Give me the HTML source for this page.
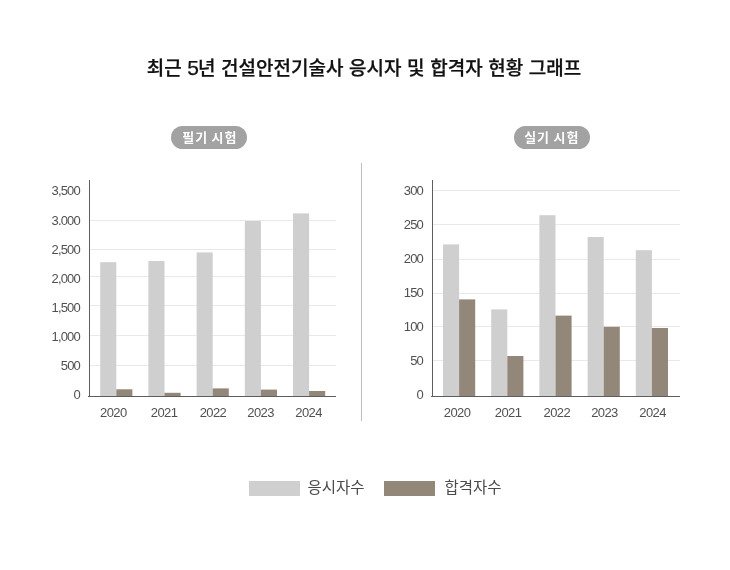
<!DOCTYPE html>
<html lang="ko"><head><meta charset="utf-8"><title>최근 5년 건설안전기술사 응시자 및 합격자 현황 그래프</title>
<style>
html,body{margin:0;padding:0;background:#fff;}
body{width:730px;height:570px;position:relative;overflow:hidden;font-family:"Liberation Sans","Noto Sans CJK KR",sans-serif;}
.abs,.b,.gl,.yl,.xl,.pill,.sw,.lg{position:absolute;}
.title{left:-1px;top:52px;-webkit-text-stroke:0.25px #111;width:730px;text-align:center;font-size:19px;line-height:32px;font-weight:500;color:#111;white-space:nowrap;letter-spacing:0;word-spacing:0.35px;}
.n5{font-size:21px;letter-spacing:-1.1px;}
.pill{height:23px;width:76px;border-radius:12px;background:#a2a2a2;color:#fff;font-weight:700;font-size:13px;line-height:23px;text-align:center;top:126px;white-space:nowrap;letter-spacing:0.9px;word-spacing:-0.9px;text-indent:0.9px;}
.b{width:16px;}
.g{background:#cfcfcf;}
.r{background:#93877a;}
.gl{height:1px;background:#e9e9e9;}
.ax{position:absolute;background:#5e5e5e;}
.yl{width:60px;text-align:right;font-size:13px;line-height:14px;color:#505050;letter-spacing:-0.8px;white-space:nowrap;}
.xl{width:48px;text-align:center;font-size:13px;line-height:14px;color:#505050;letter-spacing:-0.6px;white-space:nowrap;}
.sw{top:481px;height:15px;width:51px;}
.lg{top:477px;font-size:15.5px;line-height:22px;color:#4a4a4a;font-weight:400;white-space:nowrap;}
</style></head><body>
<div class="abs title">최근 <span class="n5">5</span>년 건설안전기술사 응시자 및 합격자 현황 그래프</div>
<div class="pill" style="left:171px;text-indent:1.6px">필기 시험</div>
<div class="pill" style="left:514px;text-indent:-0.5px">실기 시험</div>
<div class="ax" style="left:361px;top:163px;width:1px;height:258px;background:#bdbdbd"></div>

<div class="gl" style="left:90px;top:220px;width:246px"></div>
<div class="gl" style="left:90px;top:249px;width:246px"></div>
<div class="gl" style="left:90px;top:276px;width:246px"></div>
<div class="gl" style="left:90px;top:305px;width:246px"></div>
<div class="gl" style="left:90px;top:335px;width:246px"></div>
<div class="gl" style="left:90px;top:365px;width:246px"></div>
<div class="yl" style="left:20px;top:184px">3,500</div>
<div class="yl" style="left:20px;top:214px">3.000</div>
<div class="yl" style="left:20px;top:243px">2,500</div>
<div class="yl" style="left:20px;top:272px">2,000</div>
<div class="yl" style="left:20px;top:301px">1,500</div>
<div class="yl" style="left:20px;top:330px">1,000</div>
<div class="yl" style="left:20px;top:359px">500</div>
<div class="yl" style="left:20px;top:388px">0</div>
<svg class="abs" style="left:0;top:0" width="730" height="570" viewBox="0 0 730 570">
<rect x="100.2" y="262.2" width="16.1" height="133.8" fill="#cfcfcf"/>
<rect x="116.3" y="389.3" width="16.1" height="6.7" fill="#93877a"/>
<rect x="148.4" y="261" width="16.1" height="135.0" fill="#cfcfcf"/>
<rect x="164.5" y="392.8" width="16.1" height="3.2" fill="#93877a"/>
<rect x="196.6" y="252.4" width="16.1" height="143.6" fill="#cfcfcf"/>
<rect x="212.7" y="388.4" width="16.1" height="7.6" fill="#93877a"/>
<rect x="244.8" y="221" width="16.1" height="175.0" fill="#cfcfcf"/>
<rect x="260.9" y="389.6" width="16.1" height="6.4" fill="#93877a"/>
<rect x="293.0" y="213.4" width="16.1" height="182.6" fill="#cfcfcf"/>
<rect x="309.1" y="391" width="16.1" height="5.0" fill="#93877a"/>
</svg>
<div class="ax" style="left:89px;top:180px;width:1px;height:217px"></div>
<div class="ax" style="left:88px;top:396px;width:248px;height:1px"></div>
<div class="xl" style="left:89.3px;top:406px">2020</div>
<div class="xl" style="left:140.1px;top:406px">2021</div>
<div class="xl" style="left:188.9px;top:406px">2022</div>
<div class="xl" style="left:236.6px;top:406px">2023</div>
<div class="xl" style="left:284.6px;top:406px">2024</div>
<div class="gl" style="left:433px;top:190px;width:247px"></div>
<div class="gl" style="left:433px;top:224px;width:247px"></div>
<div class="gl" style="left:433px;top:259px;width:247px"></div>
<div class="gl" style="left:433px;top:293px;width:247px"></div>
<div class="gl" style="left:433px;top:326px;width:247px"></div>
<div class="gl" style="left:433px;top:360px;width:247px"></div>
<div class="yl" style="left:363px;top:184px">300</div>
<div class="yl" style="left:363px;top:218px">250</div>
<div class="yl" style="left:363px;top:252px">200</div>
<div class="yl" style="left:363px;top:286px">150</div>
<div class="yl" style="left:363px;top:320px">100</div>
<div class="yl" style="left:363px;top:354px">50</div>
<div class="yl" style="left:363px;top:388px">0</div>
<svg class="abs" style="left:0;top:0" width="730" height="570" viewBox="0 0 730 570">
<rect x="443.0" y="244.4" width="16.1" height="151.6" fill="#cfcfcf"/>
<rect x="459.1" y="299.4" width="16.1" height="96.6" fill="#93877a"/>
<rect x="491.2" y="309.4" width="16.1" height="86.6" fill="#cfcfcf"/>
<rect x="507.3" y="356" width="16.1" height="40.0" fill="#93877a"/>
<rect x="539.4" y="215.2" width="16.1" height="180.8" fill="#cfcfcf"/>
<rect x="555.5" y="315.6" width="16.1" height="80.4" fill="#93877a"/>
<rect x="587.6" y="237" width="16.1" height="159.0" fill="#cfcfcf"/>
<rect x="603.7" y="326.8" width="16.1" height="69.2" fill="#93877a"/>
<rect x="635.8" y="250.2" width="16.1" height="145.8" fill="#cfcfcf"/>
<rect x="651.9" y="328" width="16.1" height="68.0" fill="#93877a"/>
</svg>
<div class="ax" style="left:432px;top:180px;width:1px;height:217px"></div>
<div class="ax" style="left:431px;top:396px;width:249px;height:1px"></div>
<div class="xl" style="left:433.1px;top:406px">2020</div>
<div class="xl" style="left:484.1px;top:406px">2021</div>
<div class="xl" style="left:532.8px;top:406px">2022</div>
<div class="xl" style="left:580.5px;top:406px">2023</div>
<div class="xl" style="left:628.6px;top:406px">2024</div>
<div class="sw g" style="left:249px"></div>
<div class="lg" style="left:307.5px">응시자수</div>
<div class="sw r" style="left:384px"></div>
<div class="lg" style="left:444.5px">합격자수</div>
</body></html>
